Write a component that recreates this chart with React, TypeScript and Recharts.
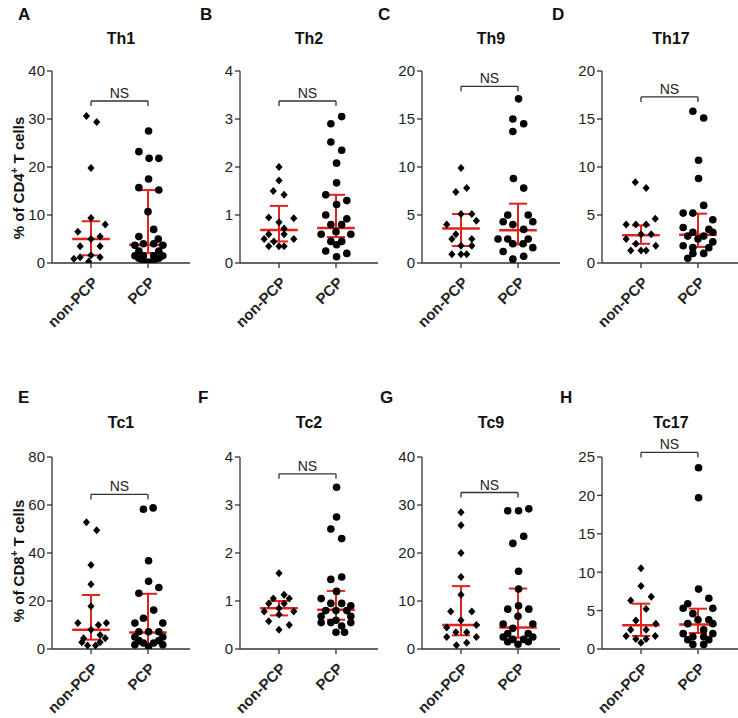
import React from "react";
import { ScatterChart, Scatter, XAxis, YAxis, ReferenceLine } from "recharts";

// [value, horizontal jitter] per dot
const th1Non = [[30.6,-0.08],[29.4,0.1],[19.8,0],[9.4,0],[8.0,0.25],[6.5,-0.23],[5.5,0.16],[5.0,0],[3.5,-0.19],[3.5,0.16],[1.6,0],[1.2,-0.19],[1.2,0.16],[0.9,-0.3],[0.3,-0.04]];
const th1Pcp = [[27.5,0.01],[23.2,-0.16],[21.8,0.02],[21.8,0.19],[17.5,0.01],[15.7,-0.16],[15.2,0.19],[10.7,0],[7.0,0.1],[5.5,-0.16],[5.0,0.18],[4.0,-0.08],[4.0,0.1],[3.7,-0.23],[3.7,0.26],[2.5,-0.16],[2.5,0.19],[1.5,-0.23],[1.5,-0.08],[1.5,0.1],[1.5,0.26],[1.0,-0.16],[1.0,0.19],[0.4,-0.08],[0.4,0.1],[0.2,0.01]];
const th2Non = [[2.0,0],[1.72,0],[1.5,-0.1],[1.42,0.09],[0.95,-0.18],[0.93,0.26],[0.85,0],[0.72,0.09],[0.6,-0.18],[0.6,0.09],[0.5,-0.26],[0.5,0.26],[0.45,-0.09],[0.35,-0.18],[0.35,0],[0.35,0.09]];
const th2Pcp = [[3.05,0.1],[2.9,-0.09],[2.52,-0.09],[2.35,0.1],[2.08,0.01],[1.67,0.01],[1.42,-0.18],[1.3,0.19],[1.22,0.01],[1.0,-0.18],[0.92,0.19],[0.8,-0.09],[0.8,0.1],[0.65,0],[0.6,-0.26],[0.6,0.26],[0.45,-0.09],[0.45,0.1],[0.38,0.01],[0.25,-0.18],[0.2,0.19],[0.13,0.01]];
const th9Non = [[9.9,0],[7.8,0.1],[7.4,-0.09],[5.1,0],[5.1,0.19],[4.4,0.27],[4.0,-0.25],[3.0,-0.09],[2.5,-0.16],[2.5,0.19],[1.8,0],[1.8,0.19],[0.9,-0.16],[0.9,0],[0.9,0.1]];
const th9Pcp = [[17.1,0.01],[15.0,-0.09],[14.5,0.1],[13.7,-0.09],[8.8,-0.08],[7.8,0.1],[5.0,-0.18],[5.0,0.18],[4.3,-0.26],[4.3,0.26],[4.0,-0.09],[3.5,0.1],[2.5,-0.35],[2.5,-0.18],[2.5,0.18],[2.0,-0.09],[2.0,0.09],[1.6,0.26],[1.2,-0.26],[0.7,0.1],[0.4,-0.09]];
const th17Non = [[8.4,-0.1],[7.8,0.09],[4.6,0.25],[4.0,-0.26],[4.0,-0.09],[4.0,0.09],[3.0,0],[3.0,0.18],[2.5,-0.26],[2.0,-0.09],[1.8,0.26],[1.3,-0.18],[1.3,0],[1.3,0.09]];
const th17Pcp = [[15.8,-0.09],[15.1,0.1],[10.7,0.01],[8.8,0.01],[6.0,0.1],[5.2,-0.26],[5.2,-0.09],[4.5,0.26],[3.7,-0.26],[3.5,0.19],[3.2,-0.09],[3.2,0.26],[2.8,-0.18],[2.8,0.1],[2.5,0],[2.2,0.26],[1.8,-0.26],[1.6,-0.09],[1.6,0.19],[1.0,-0.09],[1.0,0.1],[0.5,-0.18]];
const tc1Non = [[52.8,-0.08],[49.5,0.1],[35.0,0],[27.0,0],[17.8,0],[10.8,-0.23],[10.8,0.27],[10.0,0.13],[8.0,0],[5.8,0.16],[4.5,-0.13],[4.5,0.25],[2.8,-0.16],[2.8,0.16],[1.5,-0.06],[1.5,0.08]];
const tc1Pcp = [[58.8,0.09],[58.2,-0.08],[36.8,0.01],[28.2,0.01],[25.6,0.19],[23.2,-0.16],[16.2,0.1],[12.8,-0.08],[10.8,-0.23],[10.8,0.26],[7.2,-0.16],[7.2,0.01],[7.2,0.19],[5.0,-0.23],[5.0,0.26],[3.5,-0.16],[3.5,0.19],[2.5,-0.08],[2.5,0.1],[1.8,-0.23],[1.8,0.26],[1.0,0.01]];
const tc2Non = [[1.58,0],[1.13,0.09],[1.05,-0.1],[1.05,0.18],[0.95,-0.18],[0.95,0.09],[0.85,0],[0.78,-0.26],[0.78,0.26],[0.72,0],[0.58,-0.18],[0.5,0.18],[0.4,0]];
const tc2Pcp = [[3.37,0.01],[2.75,0.01],[2.5,-0.09],[2.3,0.1],[1.5,0.1],[1.45,-0.09],[1.2,0.01],[1.05,-0.26],[0.95,-0.09],[0.95,0.1],[0.9,0.26],[0.8,-0.18],[0.8,0],[0.8,0.19],[0.68,-0.26],[0.68,0.26],[0.6,0],[0.55,-0.26],[0.55,-0.09],[0.55,0.26],[0.48,0.1],[0.35,0],[0.35,0.15]];
const tc9Non = [[28.5,0],[25.8,0],[20.0,0],[15.0,0],[11.3,0],[7.8,-0.18],[7.8,0.19],[6.0,0],[5.0,0.27],[4.5,-0.25],[3.5,-0.09],[3.5,0.1],[2.5,-0.25],[2.5,0.27],[1.3,0.1],[0.8,-0.08]];
const tc9Pcp = [[29.2,0.19],[28.8,-0.18],[28.8,0.01],[23.5,0.1],[22.0,-0.09],[16.2,0.01],[12.5,0.01],[9.0,0.01],[8.3,-0.18],[8.3,0.19],[6.8,0],[5.2,-0.26],[5.2,0.26],[4.3,-0.09],[3.2,-0.18],[3.2,0.18],[2.5,-0.26],[2.5,0.26],[2.0,-0.09],[2.0,0.1],[1.5,-0.18],[1.5,0.18],[1.0,0]];
const tc17Non = [[10.5,0],[8.2,0],[6.8,0.18],[6.3,-0.18],[5.2,0.09],[3.7,-0.09],[3.3,0.26],[2.5,-0.18],[2.5,0.09],[1.7,-0.26],[1.7,0.25],[1.3,-0.09],[1.3,0.09],[0.8,0]];
const tc17Pcp = [[23.6,0.01],[19.7,0.01],[7.8,0.01],[6.6,0.19],[5.9,-0.18],[5.3,-0.26],[5.3,0.26],[4.6,-0.09],[3.8,0],[3.8,0.19],[3.3,-0.18],[3.3,0.26],[2.5,0.1],[2.0,-0.26],[2.0,0.26],[1.6,-0.09],[1.6,0.1],[1.2,-0.18],[1.2,0.19],[0.6,-0.09],[0.6,0.1]];

// [median, q1, q3] for non-PCP then PCP
const th1Stats = [[5.0, 1.6, 8.7], [3.8, 2.1, 15.2]];
const th2Stats = [[0.69, 0.45, 1.19], [0.73, 0.54, 1.42]];
const th9Stats = [[3.6, 1.77, 5.1], [3.4, 1.94, 6.18]];
const th17Stats = [[2.88, 2.0, 3.92], [2.95, 1.67, 5.14]];
const tc1Stats = [[8.0, 3.9, 22.5], [6.9, 2.1, 23.0]];
const tc2Stats = [[0.85, 0.7, 1.0], [0.82, 0.61, 1.21]];
const tc9Stats = [[5.0, 2.85, 13.1], [4.5, 2.36, 12.6]];
const tc17Stats = [[3.08, 1.7, 5.9], [3.2, 2.08, 5.25]];

const groups = ["non-PCP", "PCP"];
const titles = ["Th1", "Th2", "Th9", "Th17", "Tc1", "Tc2", "Tc9", "Tc17"];
const letters = ["A", "B", "C", "D", "E", "F", "G", "H"];
const yMax = [40, 4, 20, 20, 80, 4, 40, 25];
const yTicks = [[0, 10, 20, 30, 40], [0, 1, 2, 3, 4], [0, 5, 10, 15, 20], [0, 5, 10, 15, 20], [0, 20, 40, 60, 80], [0, 1, 2, 3, 4], [0, 10, 20, 30, 40], [0, 5, 10, 15, 20, 25]];
const nsLevel = [33.75, 3.375, 18.4, 17.3, 64.4, 3.65, 32.6, 25.6];
const yLabels = ["CD4", "CD8"];

const dots = [[th1Non, th1Pcp], [th2Non, th2Pcp], [th9Non, th9Pcp], [th17Non, th17Pcp], [tc1Non, tc1Pcp], [tc2Non, tc2Pcp], [tc9Non, tc9Pcp], [tc17Non, tc17Pcp]];
const stats = [th1Stats, th2Stats, th9Stats, th17Stats, tc1Stats, tc2Stats, tc9Stats, tc17Stats];

const colX = [52, 240, 422, 602];
const rowTop = [71, 457];
const letterPos = [[18, 15], [200, 15], [378, 15], [552, 15], [18, 398], [198, 398], [380, 398], [560, 398]];

const YW = 45, PW = 138, PH = 192, MT = 40, XH = 80;
const RED = "#e3231b";
const INK = "#333";
const FONT = "'Liberation Sans', Arial, sans-serif";

const Diamond = (p: any) => (
  <path d={`M${p.cx},${p.cy - 4}L${p.cx + 3.6},${p.cy}L${p.cx},${p.cy + 4}L${p.cx - 3.6},${p.cy}Z`} fill="#000" />
);
const Dot = (p: any) => <circle cx={p.cx} cy={p.cy} r={3.8} fill="#000" />;

const XTick = (props: any) => {
  const { x, y, payload } = props;
  return (
    <g transform={`translate(${x},${y})`}>
      <text x={-4} y={15} textAnchor="end" transform="rotate(-45)" fontWeight="bold" fontSize={15} fill="#222">
        {groups[payload.value]}
      </text>
    </g>
  );
};

function Panel({ i }: { i: number }) {
  const col = i % 4;
  const row = Math.floor(i / 4);
  const max = yMax[i];
  const ns = nsLevel[i];
  const tickDrop = (max * 5) / PH;
  const series = dots[i].map((g, gi) => g.map(([v, j]) => ({ x: gi + j, y: v })));
  const seg = (x1: number, y1: number, x2: number, y2: number, key: string, stroke: string, w: number) => (
    <ReferenceLine key={key} segment={[{ x: x1, y: y1 }, { x: x2, y: y2 }]} stroke={stroke} strokeWidth={w} ifOverflow="visible" />
  );
  return (
    <div style={{ position: "absolute", left: colX[col] - YW, top: rowTop[row] - MT }}>
      <ScatterChart width={YW + PW} height={MT + PH + XH} margin={{ top: MT, right: 0, bottom: 0, left: 0 }}>
        <XAxis type="number" dataKey="x" domain={[-0.684, 1.737]} ticks={[0, 1]} interval={0} allowDataOverflow
          tick={<XTick />} tickSize={5} height={XH} axisLine={{ stroke: INK, strokeWidth: 1.3 }} tickLine={{ stroke: INK, strokeWidth: 1.3 }} />
        <YAxis type="number" dataKey="y" domain={[0, max]} ticks={yTicks[i]} interval={0} allowDataOverflow width={YW}
          tick={{ fontSize: 15, fill: "#222" }} tickSize={5} axisLine={{ stroke: INK, strokeWidth: 1.3 }} tickLine={{ stroke: INK, strokeWidth: 1.3 }} />
        <Scatter data={series[0]} shape={Diamond} isAnimationActive={false} />
        <Scatter data={series[1]} shape={Dot} isAnimationActive={false} />
        {stats[i].map(([m, q1, q3], gi) => [
          seg(gi, q1, gi, q3, `v${gi}`, RED, 2),
          seg(gi - 0.16, q1, gi + 0.16, q1, `l${gi}`, RED, 2),
          seg(gi - 0.16, q3, gi + 0.16, q3, `u${gi}`, RED, 2),
          seg(gi - 0.33, m, gi + 0.33, m, `m${gi}`, RED, 2.5),
        ])}
        {seg(0, ns, 0, ns - tickDrop, "b0", INK, 1.3)}
        {seg(1, ns, 1, ns - tickDrop, "b1", INK, 1.3)}
        <ReferenceLine segment={[{ x: 0, y: ns }, { x: 1, y: ns }]} stroke={INK} strokeWidth={1.3} ifOverflow="visible"
          label={{ value: "NS", position: "top", offset: 3, fontSize: 14, fill: "#222" }} />
      </ScatterChart>
    </div>
  );
}

export default function App() {
  return (
    <div style={{ position: "absolute", left: 0, top: 0, width: 738, height: 718, overflow: "hidden", background: "#fff", fontFamily: FONT, color: "#111" }}>
      {titles.map((t, i) => {
        const cx = colX[i % 4] + PW / 2;
        const cy = i < 4 ? 39 : 423;
        return (
          <div key={t} style={{ position: "absolute", left: cx - 50, top: cy - 10, width: 100, height: 20, lineHeight: "20px", textAlign: "center", fontWeight: "bold", fontSize: 16 }}>{t}</div>
        );
      })}
      {letters.map((l, i) => (
        <div key={l} style={{ position: "absolute", left: letterPos[i][0], top: letterPos[i][1] - 10, height: 20, lineHeight: "20px", fontWeight: "bold", fontSize: 17 }}>{l}</div>
      ))}
      {yLabels.map((c, r) => (
        <div key={c} style={{ position: "absolute", left: 15 - 100, top: (r === 0 ? 178 : 561) - 10, width: 200, height: 20, lineHeight: "20px", textAlign: "center", fontWeight: "bold", fontSize: 15, transform: "rotate(-90deg)" }}>
          % of {c}<sup style={{ fontSize: 10 }}>+</sup> T cells
        </div>
      ))}
      {titles.map((t, i) => <Panel key={t} i={i} />)}
    </div>
  );
}
